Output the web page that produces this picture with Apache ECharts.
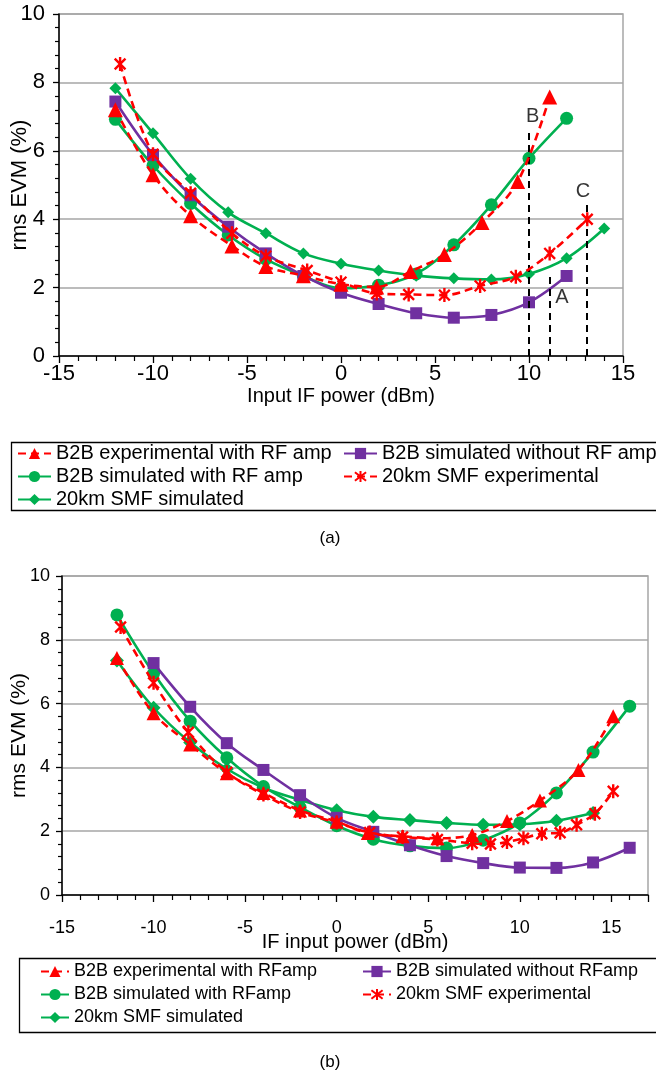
<!DOCTYPE html>
<html><head><meta charset="utf-8">
<script src="https://cdn.jsdelivr.net/npm/echarts@6/dist/echarts.min.js"></script>
<style>
html,body{margin:0;padding:0;background:#fff;width:656px;height:1077px;overflow:hidden}
#a{position:absolute;left:0;top:0;width:656px;height:550px}
#b{position:absolute;left:0;top:550px;width:656px;height:527px}
</style>
</head><body><div id="a"></div><div id="b"></div>
<script>
// ---------- (a) data ----------
const aTriX  = [-12, -10, -8, -5.8, -4, -2, 0, 1.9, 3.7, 5.5, 7.5, 9.4, 11.1];
const aTriY  = [7.2, 5.3, 4.1, 3.22, 2.62, 2.35, 2.1, 2.02, 2.47, 2.97, 3.9, 5.1, 7.57];
const aSqX   = [-12, -10, -8, -6, -4, -2, 0, 2, 4, 6, 8, 10, 12];
const aSqY   = [7.44, 5.88, 4.7, 3.78, 3.0, 2.34, 1.85, 1.52, 1.25, 1.12, 1.2, 1.57, 2.34];
const aCirX  = [-12, -10, -8, -6, -4, -2, 0, 2, 4, 6, 8, 10, 12];
const aCirY  = [6.92, 5.57, 4.46, 3.54, 2.83, 2.34, 1.98, 2.07, 2.4, 3.25, 4.42, 5.78, 6.95];
const aStarX = [-11.75, -10, -8, -5.8, -4, -1.8, 0, 1.9, 3.6, 5.5, 7.4, 9.3, 11.1, 13.1];
const aStarY = [8.54, 5.9, 4.76, 3.59, 2.92, 2.5, 2.16, 1.83, 1.8, 1.78, 2.05, 2.32, 3.0, 4.0];
const aDiaX  = [-12, -10, -8, -6, -4, -2, 0, 2, 4, 6, 8, 10, 12, 14];
const aDiaY  = [7.83, 6.51, 5.18, 4.2, 3.59, 3.0, 2.7, 2.5, 2.35, 2.27, 2.24, 2.4, 2.86, 3.73];
// annotation dashed lines (x, top y) and labels
const aGuideX   = [10, 11.1, 13.05];
const aGuideTop = [6.6, 2.31, 4.47];
const aLabelTxt = ['B', 'A', 'C'];
const aLabelX   = [10.2, 11.75, 12.87];
const aLabelY   = [6.99, 1.7, 4.8];
const aXTicks = [-15, -10, -5, 0, 5, 10, 15];

// ---------- (b) data ----------
const bTriX  = [-12, -10, -8, -6, -4, -2, 0, 1.7, 3.6, 5.5, 7.4, 9.3, 11.1, 13.2, 15.1];
const bTriY  = [7.43, 5.7, 4.72, 3.82, 3.2, 2.65, 2.3, 1.94, 1.84, 1.78, 1.88, 2.32, 2.96, 3.92, 5.6];
const bSqX   = [-10, -8, -6, -4, -2, 0, 2, 4, 6, 8, 10, 12, 14, 16];
const bSqY   = [7.27, 5.9, 4.76, 3.92, 3.13, 2.42, 1.98, 1.56, 1.22, 1.0, 0.86, 0.85, 1.02, 1.48];
const bCirX  = [-12, -10, -8, -6, -4, -2, 0, 2, 4, 6, 8, 10, 12, 14, 16];
const bCirY  = [8.78, 6.95, 5.45, 4.3, 3.4, 2.75, 2.17, 1.75, 1.54, 1.47, 1.72, 2.26, 3.2, 4.48, 5.92];
const bStarX = [-11.8, -10, -8.1, -6, -4, -2, 0, 1.8, 3.6, 5.5, 7.4, 8.4, 9.3, 10.2, 11.2, 12.2, 13.1, 14.1, 15.1];
const bStarY = [8.4, 6.65, 5.1, 3.85, 3.15, 2.6, 2.27, 1.96, 1.82, 1.74, 1.62, 1.6, 1.66, 1.78, 1.92, 1.95, 2.2, 2.55, 3.25];
const bDiaX  = [-12, -10, -8, -6, -4, -2, 0, 2, 4, 6, 8, 10, 12, 14];
const bDiaY  = [7.35, 5.87, 4.78, 3.95, 3.36, 2.98, 2.66, 2.45, 2.35, 2.26, 2.2, 2.22, 2.33, 2.57];
const bXTicks = [-15, -10, -5, 0, 5, 10, 15];

const aNames = ['B2B experimental with RF amp', 'B2B simulated without RF amp', 'B2B simulated with RF amp', '20km SMF experimental', '20km SMF simulated'];
const bNames = ['B2B experimental with RFamp', 'B2B simulated without RFamp', 'B2B simulated with RFamp', '20km SMF experimental', '20km SMF simulated'];

// ---------- styling ----------
const FONT = '"Liberation Sans", Arial, sans-serif';
const RED = '#FF0000', PURPLE = '#7030A0', GREEN = '#00B050', GRID = '#A6A6A6';
const STAR = 'path://M-1,-1L1,1M-1,1L1,-1M0,-1.3L0,1.3';
const zip = (xs, ys) => xs.map((x, i) => [x, ys[i]]);

function ser(name, xs, ys, color, symbol, size, dashed, z) {
  const isStar = symbol === STAR;
  return {
    name, type: 'line', data: zip(xs, ys), smooth: 0.35,
    symbol, symbolSize: size, showSymbol: true, symbolKeepAspect: true,
    color, z,
    lineStyle: { color, width: 2.6, type: dashed ? [8, 5] : 'solid' },
    itemStyle: { color, borderColor: color, borderWidth: isStar ? 2.4 : 0 },
    emphasis: { disabled: true }, animation: false
  };
}

function axes(o) {
  return {
    xAxis: {
      type: 'value', min: -15, max: o.xmax, interval: 5,
      axisLine: { show: true, onZero: false, lineStyle: { color: '#000', width: 1.5 } },
      axisTick: { show: true, length: 7, lineStyle: { color: '#000', width: 1.3 } },
      minorTick: { show: true, splitNumber: 5, length: 5, lineStyle: { color: '#000', width: 1.2 } },
      splitLine: { show: false },
      axisLabel: { fontSize: o.fs, color: '#000', fontFamily: FONT, margin: o.xMargin,
        formatter: v => (o.xTicks.indexOf(v) >= 0 ? String(v) : '') },
      name: o.xName, nameLocation: 'middle', nameGap: o.xNameGap, nameMoveOverlap: false,
      nameTextStyle: { fontSize: o.xNameFs, color: '#000', fontFamily: FONT }
    },
    yAxis: {
      type: 'value', min: 0, max: 10, interval: 2,
      axisLine: { show: true, onZero: false, lineStyle: { color: '#000', width: 1.5 } },
      axisTick: { show: true, length: 6, lineStyle: { color: '#000', width: 1.3 } },
      minorTick: { show: true, splitNumber: 5, length: 4, lineStyle: { color: '#000', width: 1.2 } },
      splitLine: { show: true, lineStyle: { color: GRID, width: 1.5 } },
      axisLabel: { fontSize: o.fs, color: '#000', fontFamily: FONT, margin: o.yMargin },
      name: 'rms EVM (%)', nameLocation: 'middle', nameGap: o.yNameGap, nameRotate: 90,
      nameMoveOverlap: false,
      nameTextStyle: { fontSize: o.yNameFs, color: '#000', fontFamily: FONT }
    }
  };
}

function legends(names, top, col1, col2, fs, iw) {
  const base = { orient: 'vertical', top, itemWidth: iw, itemHeight: 14, itemGap: 0, padding: 0,
    selectedMode: false, textStyle: { fontSize: fs, lineHeight: 23, color: '#000', fontFamily: FONT } };
  return [
    Object.assign({}, base, { left: col1, data: [names[0], names[2], names[4]] }),
    Object.assign({}, base, { left: col2, data: [names[1], names[3]] })
  ];
}

// ---------- chart (a) ----------
const chA = echarts.init(document.getElementById('a'), null, { renderer: 'canvas' });
const axA = axes({ xmax: 15, xTicks: aXTicks, fs: 22, xMargin: 7, yMargin: 14,
  xName: 'Input IF power (dBm)', xNameFs: 20, xNameGap: 30, yNameFs: 22, yNameGap: 28 });
chA.setOption({
  animation: false,
  grid: { left: 59, top: 14, width: 564, height: 342, show: true, borderColor: GRID, borderWidth: 1.5,
    containLabel: false, outerBoundsMode: 'none' },
  xAxis: axA.xAxis, yAxis: axA.yAxis,
  legend: legends(aNames, 442, 17, 343, 20, 33),
  series: [
    ser(aNames[4], aDiaX, aDiaY, GREEN, 'diamond', 12, false, 2),
    ser(aNames[2], aCirX, aCirY, GREEN, 'circle', 13, false, 3),
    ser(aNames[1], aSqX, aSqY, PURPLE, 'rect', 12, false, 4),
    ser(aNames[3], aStarX, aStarY, RED, STAR, 14, true, 5),
    ser(aNames[0], aTriX, aTriY, RED, 'triangle', 15, true, 6),
    {
      name: 'guides', type: 'line', data: [], z: 7, silent: true,
      markLine: {
        symbol: 'none', silent: true, animation: false,
        label: { show: false },
        lineStyle: { color: '#000', width: 2, type: [7, 5] },
        data: aGuideX.map((x, i) => [{ coord: [x, 0] }, { coord: [x, aGuideTop[i]] }])
      }
    },
    {
      name: 'labels', type: 'scatter', symbolSize: 0, z: 8, silent: true,
      data: aLabelX.map((x, i) => [x, aLabelY[i], aLabelTxt[i]]),
      label: { show: true, position: 'inside', formatter: p => p.value[2],
        fontSize: 20, color: '#000', fontFamily: FONT }
    }
  ],
  graphic: [
    { type: 'rect', shape: { x: 11.5, y: 442.5, width: 660, height: 68 },
      style: { fill: 'none', stroke: '#000', lineWidth: 1.3 } },
    { type: 'text', x: 330, y: 538, style: { text: '(a)', fontSize: 17, fontFamily: FONT,
      fill: '#000', textAlign: 'center', textVerticalAlign: 'middle' } }
  ]
});

// ---------- chart (b) ----------
const chB = echarts.init(document.getElementById('b'), null, { renderer: 'canvas' });
const axB = axes({ xmax: 17, xTicks: bXTicks, fs: 18, xMargin: 24, yMargin: 12,
  xName: 'IF input power (dBm)', xNameFs: 20, xNameGap: 37, yNameFs: 21, yNameGap: 32 });
chB.setOption({
  animation: false,
  grid: { left: 62, top: 26, width: 586, height: 319, show: true, borderColor: GRID, borderWidth: 1.5,
    containLabel: false, outerBoundsMode: 'none' },
  xAxis: axB.xAxis, yAxis: axB.yAxis,
  legend: legends(bNames, 410, 40, 362, 18, 28),
  series: [
    ser(bNames[4], bDiaX, bDiaY, GREEN, 'diamond', 14, false, 2),
    ser(bNames[2], bCirX, bCirY, GREEN, 'circle', 13, false, 3),
    ser(bNames[1], bSqX, bSqY, PURPLE, 'rect', 12, false, 4),
    ser(bNames[3], bStarX, bStarY, RED, STAR, 14, true, 5),
    ser(bNames[0], bTriX, bTriY, RED, 'triangle', 14, true, 6)
  ],
  graphic: [
    { type: 'rect', shape: { x: 19.5, y: 408.5, width: 660, height: 74 },
      style: { fill: 'none', stroke: '#000', lineWidth: 1.3 } },
    { type: 'text', x: 330, y: 512, style: { text: '(b)', fontSize: 17, fontFamily: FONT,
      fill: '#000', textAlign: 'center', textVerticalAlign: 'middle' } }
  ]
});
</script>
</body></html>
